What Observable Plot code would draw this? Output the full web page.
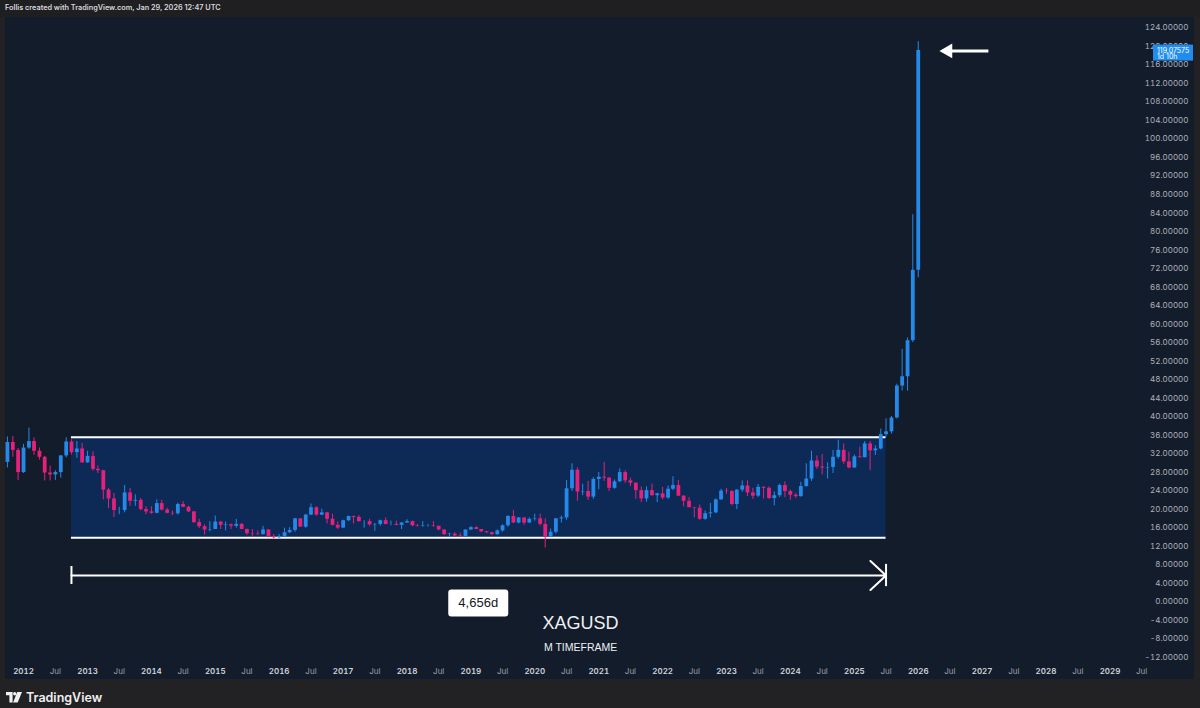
<!DOCTYPE html>
<html>
<head>
<meta charset="utf-8">
<script src="https://cdn.jsdelivr.net/npm/d3@7"></script>
<script src="https://cdn.jsdelivr.net/npm/@observablehq/plot@0.6"></script>
<style>
  html, body { margin: 0; padding: 0; width: 1200px; height: 708px; overflow: hidden; background: #222224; }
  #header { position: absolute; left: 0; top: 0; width: 1200px; height: 17px; background: #1f1f21;
    font: 600 7.3px Inter, "Liberation Sans", sans-serif; color: #d6d8de; line-height: 16px; padding-left: 5px; box-sizing: border-box; }
  #pane { position: absolute; left: 5px; top: 17px; width: 1189px; height: 662px; background: #131c2b; }
  #footer { position: absolute; left: 0; top: 679px; width: 1200px; height: 29px; background: #222224; }
  #logo { position: absolute; left: 6px; top: 11px; display: flex; align-items: center; gap: 4px;
    font: 600 12.5px Inter, "Liberation Sans", sans-serif; color: #f0f0f0; }
</style>
</head>
<body>
<div id="header">Follis created with TradingView.com, Jan 29, 2026 12:47 UTC</div>
<div id="pane"></div>
<div id="footer"><div id="logo"><svg width="16" height="11" viewBox="0 0 16 11"><path d="M0 0h6.6v10.5H3.4V3.3H0z" fill="#f0f0f0"/><circle cx="8.7" cy="1.7" r="1.7" fill="#f0f0f0"/><path d="M11.2 0H16l-4.3 10.5H7.1z" fill="#f0f0f0"/></svg><span>TradingView</span></div></div>
<script>
// ---- Data: XAGUSD monthly candles, first bar Oct 2011 ----
const firstMonth = "2011-10-01";
const opens = [
  30.1, 34.4, 32.7,
  27.9, 33.2, 34.6, 32.5, 31.2, 27.8, 27.4, 27.9, 31.5, 34.5, 32.2, 33.0,
  30.0, 31.4, 28.6, 28.3, 24.1, 22.2, 19.7, 19.7, 23.5, 21.7, 21.9, 19.9,
  19.4, 19.1, 21.2, 19.8, 19.1, 19.0, 21.0, 20.4, 19.4, 17.1, 16.2, 15.5,
  15.6, 17.2, 16.5, 16.6, 16.3, 16.7, 15.6, 14.7, 14.6, 14.5, 15.5, 14.1,
  13.8, 14.1, 14.9, 15.4, 17.9, 16.1, 18.7, 20.3, 18.7, 19.2, 17.8, 16.5,
  15.9, 17.5, 18.4, 18.2, 17.3, 17.3, 16.6, 16.7, 17.5, 16.7, 16.7, 16.5,
  17.0, 17.3, 16.4, 16.3, 16.4, 16.4, 16.3, 15.5, 14.5, 14.6, 14.2, 14.1,
  15.5, 16.0, 15.6, 15.1, 14.9, 14.5, 15.3, 16.4, 18.4, 17.0, 18.1, 17.0,
  17.8, 17.9, 16.7, 14.0, 15.0, 17.9, 18.1, 24.4, 28.4, 23.7, 23.8, 22.6,
  26.4, 26.9, 26.7, 24.5, 25.9, 27.9, 26.1, 25.6, 24.0, 22.2, 24.0, 22.9,
  23.3, 22.4, 24.3, 25.1, 22.8, 21.7, 20.3, 20.2, 17.8, 19.0, 19.2, 22.0,
  23.9, 23.8, 21.0, 24.1, 25.0, 23.5, 22.8, 24.7, 24.5, 22.3, 22.9, 25.1,
  23.8, 23.0, 22.7, 24.9, 26.5, 30.4, 29.1, 28.9, 29.0, 31.2, 32.7, 30.2,
  28.9, 31.3, 31.1, 34.1, 32.6, 33.0, 36.1, 36.7, 39.7, 46.6, 48.6, 56.4,
  71.6
];
const highs = [
  35.6, 35.7, 33.1,
  34.0, 37.5, 35.4, 33.2, 31.4, 29.3, 28.3, 31.6, 35.4, 35.0, 34.6, 34.2,
  32.5, 32.4, 29.3, 28.4, 24.5, 23.4, 20.4, 25.1, 24.5, 23.1, 22.3, 20.5,
  20.5, 22.0, 21.9, 20.2, 19.6, 21.3, 21.6, 20.6, 19.5, 17.8, 16.6, 17.3,
  18.5, 17.3, 17.2, 16.8, 17.8, 16.9, 15.7, 15.6, 15.3, 16.3, 15.6, 14.5,
  14.5, 15.9, 16.0, 18.0, 17.9, 18.9, 21.1, 20.5, 20.0, 19.3, 18.9, 17.2,
  17.6, 18.5, 18.5, 18.6, 17.5, 17.8, 16.9, 17.6, 18.1, 17.4, 17.4, 17.1,
  17.7, 17.4, 16.7, 17.3, 16.7, 17.3, 16.3, 15.5, 14.8, 14.9, 14.8, 15.5,
  16.2, 16.2, 15.6, 15.2, 15.0, 15.5, 16.6, 18.6, 19.7, 18.2, 18.1, 18.1,
  18.9, 18.9, 17.9, 15.7, 18.0, 18.5, 26.2, 29.8, 28.9, 25.4, 26.0, 26.8,
  27.9, 30.1, 26.8, 26.3, 28.7, 28.3, 26.7, 25.7, 24.8, 24.8, 25.4, 23.4,
  24.7, 25.0, 27.0, 26.2, 22.9, 22.5, 20.4, 20.9, 19.6, 21.2, 22.2, 24.3,
  24.5, 24.0, 24.2, 26.1, 26.1, 24.5, 25.3, 24.9, 24.8, 23.7, 25.4, 25.9,
  24.1, 23.4, 25.8, 29.8, 32.5, 31.5, 31.8, 30.0, 32.7, 34.9, 34.1, 32.3,
  31.7, 33.4, 34.6, 34.6, 33.7, 37.3, 39.5, 40.0, 47.0, 54.5, 57.0, 83.6,
  121.0
];
const lows = [
  28.9, 31.2, 26.2,
  27.7, 32.9, 31.6, 30.6, 26.1, 26.1, 26.2, 26.7, 31.1, 31.7, 31.0, 29.9,
  29.9, 28.2, 27.7, 22.0, 20.1, 18.2, 18.8, 19.2, 20.6, 20.6, 19.6, 18.8,
  18.9, 19.0, 19.6, 19.0, 18.6, 18.7, 20.3, 19.3, 16.9, 15.8, 14.4, 15.1,
  15.6, 15.6, 15.3, 15.6, 15.9, 15.6, 14.3, 13.9, 14.3, 14.4, 13.8, 13.6,
  13.6, 13.9, 14.7, 15.0, 16.1, 15.9, 18.6, 18.5, 18.6, 16.8, 16.4, 15.6,
  15.9, 17.3, 16.8, 17.2, 15.9, 16.3, 15.2, 16.3, 16.6, 16.4, 16.4, 15.6,
  16.9, 16.2, 16.1, 16.1, 16.1, 16.1, 15.3, 14.3, 13.9, 14.1, 13.9, 14.0,
  15.4, 15.6, 14.9, 14.7, 14.3, 14.3, 15.0, 16.1, 16.9, 16.8, 16.5, 16.9,
  17.4, 16.4, 11.6, 13.9, 14.6, 17.0, 17.6, 23.8, 21.7, 22.9, 21.9, 22.1,
  24.2, 26.0, 23.8, 24.3, 25.8, 25.6, 24.9, 22.1, 21.4, 21.5, 22.8, 21.4,
  22.0, 22.1, 24.0, 22.8, 20.5, 20.3, 18.1, 17.6, 17.6, 18.1, 19.0, 21.9,
  23.2, 20.7, 19.9, 23.6, 22.7, 22.1, 22.5, 22.2, 22.1, 20.7, 22.5, 22.5,
  21.9, 22.3, 22.6, 24.7, 26.0, 28.6, 27.4, 26.5, 27.7, 30.8, 29.7, 28.7,
  28.8, 31.1, 31.1, 28.3, 31.6, 32.8, 35.6, 36.2, 39.5, 45.5, 45.5, 56.0,
  70.0
];
const closes = [
  34.4, 32.7, 27.9,
  33.2, 34.6, 32.5, 31.2, 27.8, 27.4, 27.9, 31.5, 34.5, 32.2, 33.0, 30.0,
  31.4, 28.6, 28.3, 24.1, 22.2, 19.7, 19.7, 23.5, 21.7, 21.9, 19.9, 19.4,
  19.1, 21.2, 19.8, 19.1, 19.0, 21.0, 20.4, 19.4, 17.1, 16.2, 15.5, 15.6,
  17.2, 16.5, 16.6, 16.3, 16.7, 15.6, 14.7, 14.6, 14.5, 15.5, 14.1, 13.8,
  14.1, 14.9, 15.4, 17.9, 16.1, 18.7, 20.3, 18.7, 19.2, 17.8, 16.5, 15.9,
  17.5, 18.4, 18.2, 17.3, 17.3, 16.6, 16.7, 17.5, 16.7, 16.7, 16.5, 17.0,
  17.3, 16.4, 16.3, 16.4, 16.4, 16.3, 15.5, 14.5, 14.6, 14.2, 14.1, 15.5,
  16.0, 15.6, 15.1, 14.9, 14.5, 15.3, 16.4, 18.4, 17.0, 18.1, 17.0, 17.8,
  17.9, 16.7, 14.0, 15.0, 17.9, 18.1, 24.4, 28.4, 23.7, 23.8, 22.6, 26.4,
  26.9, 26.7, 24.5, 25.9, 27.9, 26.1, 25.6, 24.0, 22.2, 24.0, 22.9, 23.3,
  22.4, 24.3, 25.1, 22.8, 21.7, 20.3, 20.2, 17.8, 19.0, 19.2, 22.0, 23.9,
  23.8, 21.0, 24.1, 25.0, 23.5, 22.8, 24.7, 24.5, 22.3, 22.9, 25.1, 23.8,
  23.0, 22.7, 24.9, 26.5, 30.4, 29.1, 28.9, 29.0, 31.2, 32.7, 30.2, 28.9,
  31.3, 31.1, 34.1, 32.6, 33.0, 36.1, 36.7, 39.7, 46.6, 48.6, 56.4, 71.6,
  119.07575
];

// Range drawing (TradingView rectangle + date range)
const rangeStart = "2012-10-01";
const rangeEnd = "2025-07-01";
const rangeLow = 13.8;
const rangeHigh = 35.55;
const rangeArrowPrice = 5.66;
const rangeLabel = "4,656d";
const rangeLabelPrice = -0.3;

// Text notes
const noteTexts = ["XAGUSD", "M TIMEFRAME"];
const noteDate = "2020-09-19";
const notePrices = [-4.7, -9.9];

// Pointer arrow near last price
const pointerFrom = "2027-02-06";
const pointerTo = "2026-07-08";
const pointerHead = "2026-06-20";
const pointerPrice = 119.0;

// Last price badge
const lastPrice = 119.07575;
const lastCountdown = "1d 10h";

// Axis ticks
const yTicks = d3.range(-12, 125, 4);
const tickYears = d3.range(2012, 2030);

// ---- Build ----
const up = "#2489e9", down = "#e6217c";
const start = new Date(firstMonth);
const candles = closes.map((c, i) => ({
  date: d3.utcMonth.offset(start, i),
  open: opens[i], high: highs[i], low: lows[i], close: c
}));
const col = d => d.close >= d.open ? up : down;
const rs = new Date(rangeStart), re = new Date(rangeEnd);
const rangeRow = [{start: rs, end: re, low: rangeLow, high: rangeHigh, y: rangeArrowPrice}];
const midDate = new Date((+rs + +re) / 2);
const yearTicks = tickYears.map(y => new Date(Date.UTC(y, 0, 1)));
const julTicks = tickYears.map(y => new Date(Date.UTC(y, 6, 1)));

const W = 1189, H = 662;
const chart = Plot.plot({
  width: W, height: H,
  marginLeft: 0, marginRight: 49, marginTop: 0, marginBottom: 20,
  style: {background: "transparent", color: "#aeb1ba", fontFamily: "Inter, 'Liberation Sans', sans-serif", fontSize: "8px"},
  x: {type: "utc", domain: [new Date("2011-09-20"), new Date("2029-07-23")]},
  y: {domain: [-12.49, 126.23]},
  marks: [
    Plot.rect(rangeRow, {x1: "start", x2: "end", y1: "low", y2: "high", fill: "#0c2a55"}),
    Plot.ruleY([rangeLow, rangeHigh], {x1: rs, x2: re, stroke: "#ffffff", strokeWidth: 2}),
    Plot.ruleX(candles, {x: "date", y1: "low", y2: "high", stroke: col, strokeWidth: 1}),
    Plot.ruleX(candles, {x: "date", y1: "open", y2: "close", stroke: col, strokeWidth: 3.8}),
    Plot.arrow(rangeRow, {x1: "start", x2: "end", y1: "y", y2: "y", stroke: "#ffffff", strokeWidth: 2, headLength: 16, headAngle: 86}),
    Plot.ruleX([rs], {y1: rangeArrowPrice - 1.95, y2: rangeArrowPrice + 1.95, stroke: "#ffffff", strokeWidth: 2}),
    Plot.ruleX([re], {y1: rangeArrowPrice - 2.4, y2: rangeArrowPrice + 2.4, stroke: "#ffffff", strokeWidth: 2}),
    Plot.text(noteTexts.slice(0, 1), {x: () => new Date(noteDate), y: notePrices[0], text: d => d, fill: "#eef0f3", fontSize: 18, fontFamily: "'Liberation Sans', Arial, sans-serif"}),
    Plot.text(noteTexts.slice(1), {x: () => new Date(noteDate), y: notePrices[1], text: d => d, fill: "#eef0f3", fontSize: 10.5, fontFamily: "'Liberation Sans', Arial, sans-serif"}),
    Plot.link([{a: new Date(pointerFrom), b: new Date(pointerTo)}], {x1: "a", x2: "b", y1: pointerPrice, y2: pointerPrice, stroke: "#ffffff", strokeWidth: 3}),
    Plot.dot([new Date(pointerHead)], {x: d => d, y: pointerPrice, symbol: "triangle", r: 5.5, fill: "#ffffff", rotate: -90}),
    Plot.axisX({ticks: yearTicks, tickFormat: d => String(d.getUTCFullYear()), tickSize: 0, tickPadding: 9, fontWeight: 600, fill: "#d1d4dc"}),
    Plot.axisX({ticks: julTicks, tickFormat: () => "Jul", tickSize: 0, tickPadding: 9, fill: "#9da0a8"}),
    Plot.axisY({anchor: "right", ticks: yTicks, tickFormat: d => d.toFixed(5), tickSize: 0, tickPadding: 3, textAnchor: "end", dx: 40})
  ]
});
document.getElementById("pane").appendChild(chart);

// Overlays placed through Plot's scales
const sx = chart.scale("x"), sy = chart.scale("y");
const svg = d3.select(chart);
// range length label
const lx = sx.apply(midDate), ly = sy.apply(rangeLabelPrice);
svg.append("rect").attr("x", lx - 30).attr("y", ly - 13).attr("width", 60).attr("height", 27).attr("rx", 3).attr("fill", "#ffffff");
svg.append("text").attr("x", lx).attr("y", ly).attr("dy", "0.35em").attr("text-anchor", "middle")
  .attr("font-family", "'Liberation Sans', Arial, sans-serif").attr("font-size", 13).attr("fill", "#131722").text(rangeLabel);
// last price badge
const py = sy.apply(lastPrice);
svg.append("rect").attr("x", 1148).attr("y", py - 5.5).attr("width", 40).attr("height", 16).attr("fill", "#1f8cf0");
svg.append("text").attr("x", 1152).attr("y", py).attr("dy", "0.35em").attr("text-anchor", "start").attr("font-size", 7).attr("fill", "#ffffff")
  .attr("font-family", "Inter, sans-serif").text(lastPrice.toFixed(5));
svg.append("text").attr("x", 1152).attr("y", py + 6.3).attr("dy", "0.35em").attr("text-anchor", "start").attr("font-size", 7).attr("fill", "#ffffff")
  .attr("font-family", "Inter, sans-serif").text(lastCountdown);
</script>
</body>
</html>
